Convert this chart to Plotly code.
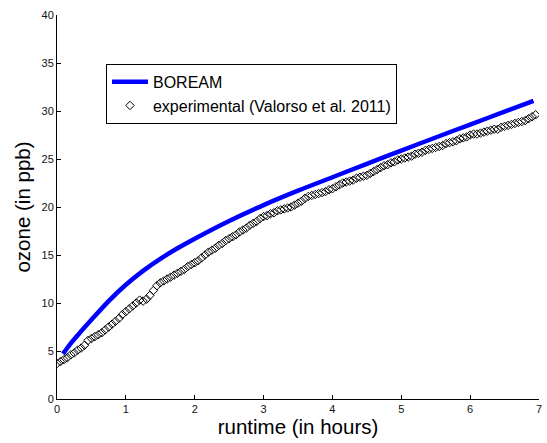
import plotly.graph_objects as go

# BOREAM model curve (hours, ppb)
boream_t = [0.087, 0.2, 0.35, 0.5, 0.75, 1.0, 1.25, 1.5, 1.75, 2.0, 2.5,
            3.0, 3.5, 4.0, 4.5, 5.0, 5.5, 6.0, 6.5, 6.92]
boream_o3 = [4.7, 5.8, 7.05, 8.25, 10.2, 11.9, 13.35, 14.6, 15.7, 16.7, 18.55,
             20.2, 21.7, 23.1, 24.5, 25.88, 27.24, 28.59, 29.93, 31.05]

# experimental (Valorso et al. 2011), sampled every 0.05 h starting at 0
exp_t0 = 0.0
exp_dt = 0.05
exp_o3 = [
    3.7, 3.9, 4.1, 4.3, 4.6, 4.8, 5.1, 5.3, 5.6, 6.1,
    6.3, 6.5, 6.7, 6.9, 7.2, 7.5, 7.8, 8.1, 8.4, 8.8,
    9.1, 9.4, 9.7, 10.0, 10.3, 10.2, 10.4, 10.8, 11.3, 11.8,
    12.1, 12.3, 12.5, 12.7, 12.9, 13.1, 13.3, 13.5, 13.8, 14.0,
    14.2, 14.4, 14.7, 15.0, 15.3, 15.5, 15.7, 16.0, 16.2, 16.5,
    16.7, 16.9, 17.1, 17.4, 17.6, 17.8, 18.1, 18.3, 18.5, 18.8,
    19.0, 19.1, 19.3, 19.4, 19.6, 19.7, 19.8, 19.9, 20.0, 20.2,
    20.4, 20.6, 20.9, 21.1, 21.2, 21.3, 21.4, 21.5, 21.6, 21.8,
    21.9, 22.1, 22.3, 22.5, 22.6, 22.7, 22.8, 23.0, 23.1, 23.2,
    23.3, 23.5, 23.7, 23.9, 24.1, 24.3, 24.4, 24.6, 24.7, 24.9,
    25.0, 25.1, 25.2, 25.3, 25.5, 25.6, 25.7, 25.9, 26.0, 26.1,
    26.2, 26.3, 26.4, 26.6, 26.7, 26.8, 26.9, 27.1, 27.2, 27.3,
    27.5, 27.6, 27.6, 27.7, 27.8, 27.9, 28.0, 28.1, 28.1, 28.3,
    28.4, 28.5, 28.6, 28.7, 28.8, 28.9, 29.0, 29.2, 29.4, 29.6,
]

x_ticks = [0, 1, 2, 3, 4, 5, 6, 7]
y_ticks = [0, 5, 10, 15, 20, 25, 30, 35, 40]

FONT = "Liberation Sans, Arial, sans-serif"

fig = go.Figure()
fig.add_trace(go.Scatter(
    x=boream_t, y=boream_o3, mode="lines", name="BOREAM",
    line=dict(color="#0000FF", width=4.5, shape="spline", smoothing=0.8),
))
fig.add_trace(go.Scatter(
    y=exp_o3, x0=exp_t0, dx=exp_dt, mode="markers",
    name="experimental (Valorso et al. 2011)",
    marker=dict(symbol="diamond-open", size=6.5, color="black",
                line=dict(color="black", width=1)),
))

fig.update_layout(
    width=547, height=443,
    margin=dict(l=57, r=5, t=15, b=44),
    paper_bgcolor="white", plot_bgcolor="white",
    font=dict(family=FONT, color="black"),
    showlegend=True,
    legend=dict(
        x=0.1016, y=0.873, xanchor="left", yanchor="top",
        bordercolor="black", borderwidth=1, bgcolor="white",
        font=dict(size=16, family=FONT, color="black"),
        itemwidth=36, tracegroupgap=0,
    ),
    xaxis=dict(
        range=[0, 7], tickvals=x_ticks, ticks="inside", ticklen=4,
        tickcolor="black", showline=True, linecolor="black", linewidth=1,
        showgrid=False, zeroline=False, mirror=False,
        tickfont=dict(size=11, family=FONT, color="#111"),
        title=dict(text="runtime (in hours)", font=dict(size=20.5, family=FONT),
                   standoff=1),
    ),
    yaxis=dict(
        range=[0, 40], tickvals=y_ticks, ticks="inside", ticklen=4,
        tickcolor="black", showline=True, linecolor="black", linewidth=1,
        showgrid=False, zeroline=False, mirror=False,
        tickfont=dict(size=11, family=FONT, color="#111"),
        title=dict(text="ozone (in ppb)", font=dict(size=20.5, family=FONT),
                   standoff=5),
    ),
)

fig.write_html("out.html")
